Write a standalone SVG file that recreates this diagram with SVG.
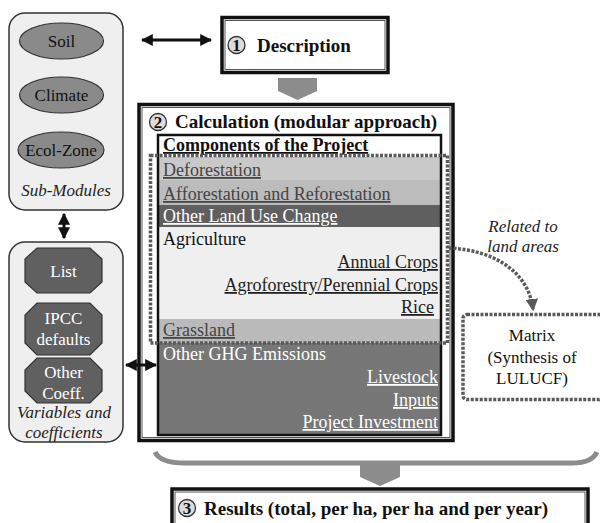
<svg xmlns="http://www.w3.org/2000/svg" width="600" height="523" viewBox="0 0 600 523" font-family="'Liberation Serif', 'DejaVu Serif', serif">
<defs>
<style>
text{font-family:'Liberation Serif','DejaVu Serif',serif;}
.panel{fill:#efefef;stroke:#333;stroke-width:1.5;}
.ell{fill:#8a8a8a;stroke:#333;stroke-width:1.2;}
.oct{fill:#606060;stroke:#333;stroke-width:1.2;}
.t17{font-size:17px;fill:#111;}
.w17{font-size:17px;fill:#fff;}
.it{font-style:italic;font-size:17px;fill:#222;}
.b19{font-weight:bold;font-size:19px;fill:#111;}
.r18{font-size:18px;}
.num{font-weight:bold;font-size:17px;fill:#111;text-anchor:middle;}
.circ{fill:#dcdcdc;stroke:#333;stroke-width:1.3;}
.outer{fill:none;stroke:#111;stroke-width:3.5;}
.innerl{fill:none;stroke:#555;stroke-width:1;}
.dots{fill:none;stroke:#5a5a5a;stroke-width:3.5;stroke-dasharray:3 1.5;}
.arr{stroke:#111;stroke-width:3;fill:none;}
</style>
<marker id="ah" viewBox="0 0 10 10" refX="9" refY="5" markerWidth="4" markerHeight="4" orient="auto-start-reverse">
<path d="M0,0 L10,5 L0,10 z" fill="#111"/>
</marker>
<marker id="ahg" viewBox="0 0 10 10" refX="8" refY="5" markerWidth="3.6" markerHeight="3.6" orient="auto">
<path d="M0,0 L10,5 L0,10 z" fill="#5a5a5a"/>
</marker>
</defs>
<rect width="600" height="523" fill="#fff"/>

<g id="submodules">
<rect class="panel" x="9" y="13" width="114" height="197" rx="16"/>
<g id="soil"><ellipse class="ell" cx="61.5" cy="41" rx="42" ry="18"/><text class="t17" x="61.5" y="47" text-anchor="middle">Soil</text></g>
<g id="climate"><ellipse class="ell" cx="61.5" cy="95" rx="42" ry="18"/><text class="t17" x="61.5" y="101" text-anchor="middle">Climate</text></g>
<g id="ecolzone"><ellipse class="ell" cx="61" cy="150" rx="43" ry="18"/><text class="t17" x="61" y="156" text-anchor="middle">Ecol-Zone</text></g>
<text class="it" x="66" y="196" text-anchor="middle">Sub-Modules</text>
</g>

<g id="variables">
<rect class="panel" x="9" y="242" width="114" height="200" rx="16"/>
<g id="list"><polygon class="oct" points="37,248 90,248 102,259 102,282 90,293 37,293 25,282 25,259"/><text class="w17" x="63.5" y="277" text-anchor="middle">List</text></g>
<g id="ipcc"><polygon class="oct" points="37,303 90,303 102,315 102,343 90,355 37,355 25,343 25,315"/><text class="w17" x="63.5" y="324" text-anchor="middle">IPCC</text><text class="w17" x="63.5" y="345" text-anchor="middle">defaults</text></g>
<g id="othercoeff"><polygon class="oct" points="37,358 90,358 102,370 102,391 90,403 37,403 25,391 25,370"/><text class="w17" x="63.5" y="378" text-anchor="middle">Other</text><text class="w17" x="63.5" y="399" text-anchor="middle">Coeff.</text></g>
<text class="it" x="64" y="418" text-anchor="middle">Variables and</text>
<text class="it" x="64" y="438" text-anchor="middle">coefficients</text>
</g>

<g id="description">
<rect x="222" y="17.5" width="166" height="55" fill="#f2f2f2" class="outer"/>
<rect class="innerl" x="225" y="20.5" width="160" height="49"/>
<circle class="circ" cx="236.5" cy="45" r="8.5"/><text class="num" x="236.5" y="51">1</text>
<text class="b19" x="257" y="52">Description</text>
</g>

<g id="calculation">
<rect x="139" y="104.5" width="314" height="336" fill="#f5f5f5" class="outer"/>
<rect class="innerl" x="142" y="107.5" width="308" height="330"/>
<circle class="circ" cx="158" cy="122" r="8.5"/><text class="num" x="158" y="128">2</text>
<text class="b19" x="175" y="128">Calculation (modular approach)</text>
<g id="components">
<rect x="158" y="135" width="283" height="300" fill="#fff"/>
<rect x="158" y="157" width="283" height="23" fill="#c9c9c9"/>
<rect x="158" y="180" width="283" height="25" fill="#bcbcbc"/>
<rect x="158" y="205" width="283" height="22" fill="#5f5f5f"/>
<rect x="158" y="227" width="283" height="92" fill="#efefef"/>
<rect x="158" y="319" width="283" height="24" fill="#bababa"/>
<rect x="158" y="343" width="283" height="92" fill="#777"/>
<rect x="158" y="135" width="283" height="300" fill="none" stroke="#111" stroke-width="2.5"/>
<text class="r18" x="163" y="151" font-weight="bold" text-decoration="underline" fill="#111">Components of the Project</text>
<text class="r18" x="163" y="176" text-decoration="underline" fill="#444">Deforestation</text>
<text class="r18" x="163" y="200" text-decoration="underline" fill="#444">Afforestation and Reforestation</text>
<text class="r18" x="163" y="222" text-decoration="underline" fill="#fff">Other Land Use Change</text>
<text class="r18" x="163" y="245" fill="#111">Agriculture</text>
<text class="r18" x="438" y="268" text-anchor="end" text-decoration="underline" fill="#222">Annual Crops</text>
<text class="r18" x="438" y="291" text-anchor="end" text-decoration="underline" fill="#222">Agroforestry/Perennial Crops</text>
<text class="r18" x="434" y="313" text-anchor="end" text-decoration="underline" fill="#222">Rice</text>
<text class="r18" x="163" y="336" text-decoration="underline" fill="#444">Grassland</text>
<text class="r18" x="163" y="360" fill="#fff">Other GHG Emissions</text>
<text class="r18" x="438" y="383" text-anchor="end" text-decoration="underline" fill="#fff">Livestock</text>
<text class="r18" x="438" y="406" text-anchor="end" text-decoration="underline" fill="#fff">Inputs</text>
<text class="r18" x="438" y="428" text-anchor="end" text-decoration="underline" fill="#fff">Project Investment</text>
</g>
<rect id="landgroup" class="dots" x="150.5" y="155.5" width="297" height="187.5"/>
</g>

<g id="matrix">
<rect x="463" y="314.5" width="140" height="85" rx="4" fill="#e9e9e9" class="dots"/>
<text class="t17" x="532" y="341" text-anchor="middle">Matrix</text>
<text class="t17" x="532" y="363" text-anchor="middle">(Synthesis of</text>
<text class="t17" x="532" y="384" text-anchor="middle">LULUCF)</text>
</g>

<g id="results">
<rect x="172" y="489" width="416" height="40" fill="#f2f2f2" class="outer"/>
<rect class="innerl" x="175" y="492" width="410" height="40"/>
<circle class="circ" cx="187" cy="508" r="8.5"/><text class="num" x="187" y="514">3</text>
<text class="b19" x="204" y="515">Results (total, per ha, per ha and per year)</text>
</g>

<g id="connectors">
<line class="arr" x1="142" y1="40" x2="211" y2="40" marker-start="url(#ah)" marker-end="url(#ah)"/>
<line class="arr" x1="64" y1="214" x2="64" y2="238" marker-start="url(#ah)" marker-end="url(#ah)"/>
<line class="arr" x1="126" y1="365" x2="156" y2="365" marker-start="url(#ah)" marker-end="url(#ah)"/>
<polygon points="278,78 317,78 317,91 297.5,100 278,91" fill="#8c8c8c"/>
<path class="dots" d="M449,248 C492,250 528,270 533,309" marker-end="url(#ahg)"/>
<text class="it" x="523" y="232" text-anchor="middle">Related to</text>
<text class="it" x="523" y="252" text-anchor="middle">land areas</text>
<path d="M155,452 Q160,463 185,463 L572,463 Q592,463 597,452" fill="none" stroke="#8c8c8c" stroke-width="5"/>
<polygon points="360,463 400,463 400,477 380,486 360,477" fill="#8c8c8c"/>
</g>
</svg>
